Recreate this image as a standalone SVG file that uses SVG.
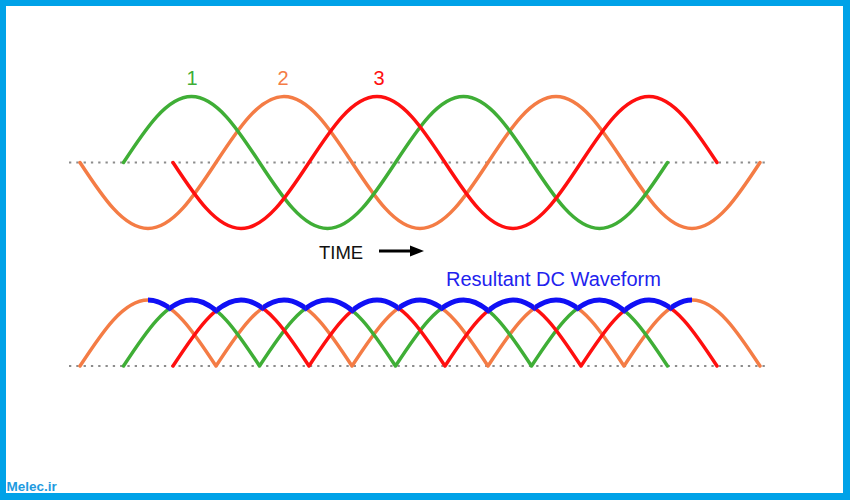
<svg xmlns="http://www.w3.org/2000/svg" xmlns:xlink="http://www.w3.org/1999/xlink" width="850" height="500" viewBox="0 0 850 500">
<style>
.wave{fill:none;stroke-width:3.5;stroke-linecap:round;stroke-linejoin:round}
.g{stroke:#3fae36}
.o{stroke:#f47c45}
.r{stroke:#ff0f0f}
.b{fill:none;stroke:#1010f5;stroke-width:5;stroke-linejoin:round}
.base{stroke:#8c8c8c;stroke-width:2;stroke-dasharray:2.3 5}
.lbl{font-family:"Liberation Sans",Arial,sans-serif;font-size:20px;text-anchor:middle}
</style>
<defs>
<path id="rg" d="M123.5,366 C145.67,332.19 166.89,300 191.5,300 C216.11,300 237.33,332.19 259.5,366 C281.67,332.19 302.89,300 327.5,300 C352.11,300 373.33,332.19 395.5,366 C417.67,332.19 438.89,300 463.5,300 C488.11,300 509.33,332.19 531.5,366 C553.67,332.19 574.89,300 599.5,300 C624.11,300 645.33,332.19 667.5,366"/>
<path id="ro" d="M80,366 C102.17,332.19 123.39,300 148,300 C172.61,300 193.83,332.19 216,366 C238.17,332.19 259.39,300 284,300 C308.61,300 329.83,332.19 352,366 C374.17,332.19 395.39,300 420,300 C444.61,300 465.83,332.19 488,366 C510.17,332.19 531.39,300 556,300 C580.61,300 601.83,332.19 624,366 C646.17,332.19 667.39,300 692,300 C716.61,300 737.83,332.19 760,366"/>
<path id="rr" d="M173,366 C195.17,332.19 216.39,300 241,300 C265.61,300 286.83,332.19 309,366 C331.17,332.19 352.39,300 377,300 C401.61,300 422.83,332.19 445,366 C467.17,332.19 488.39,300 513,300 C537.61,300 558.83,332.19 581,366 C603.17,332.19 624.39,300 649,300 C673.61,300 694.83,332.19 717,366"/>
<clipPath id="co"><rect x="148" y="280" width="21.75" height="40"/><rect x="262.5" y="280" width="43.25" height="40"/><rect x="398.5" y="280" width="43.25" height="40"/><rect x="534.5" y="280" width="43.25" height="40"/><rect x="670.5" y="280" width="21.5" height="40"/></clipPath>
<clipPath id="cg"><rect x="169.75" y="280" width="46.5" height="40"/><rect x="305.75" y="280" width="46.5" height="40"/><rect x="441.75" y="280" width="46.5" height="40"/><rect x="577.75" y="280" width="46.5" height="40"/></clipPath>
<clipPath id="cr"><rect x="216.25" y="280" width="46.25" height="40"/><rect x="352.25" y="280" width="46.25" height="40"/><rect x="488.25" y="280" width="46.25" height="40"/><rect x="624.25" y="280" width="46.25" height="40"/></clipPath>
</defs>
<g id="frame">
<rect x="0" y="0" width="850" height="500" fill="#00a2e8"/>
<rect x="6" y="6" width="837" height="487" fill="#ffffff"/>
</g>
<g id="baselines">
<line class="base" x1="69" y1="162.5" x2="767" y2="162.5"/>
<line class="base" x1="69" y1="366" x2="767" y2="366"/>
</g>
<g id="ac-waves">
<path id="wave-2" class="wave o" d="M80,162.5 C102.17,196.31 123.39,228.5 148,228.5 C172.61,228.5 193.83,196.31 216,162.5 C238.17,128.69 259.39,96.5 284,96.5 C308.61,96.5 329.83,128.69 352,162.5 C374.17,196.31 395.39,228.5 420,228.5 C444.61,228.5 465.83,196.31 488,162.5 C510.17,128.69 531.39,96.5 556,96.5 C580.61,96.5 601.83,128.69 624,162.5 C646.17,196.31 667.39,228.5 692,228.5 C716.61,228.5 737.83,196.31 760,162.5"/>
<path id="wave-1" class="wave g" d="M123.5,162.5 C145.67,128.69 166.89,96.5 191.5,96.5 C216.11,96.5 237.33,128.69 259.5,162.5 C281.67,196.31 302.89,228.5 327.5,228.5 C352.11,228.5 373.33,196.31 395.5,162.5 C417.67,128.69 438.89,96.5 463.5,96.5 C488.11,96.5 509.33,128.69 531.5,162.5 C553.67,196.31 574.89,228.5 599.5,228.5 C624.11,228.5 645.33,196.31 667.5,162.5"/>
<path id="wave-3" class="wave r" d="M173,162.5 C195.17,196.31 216.39,228.5 241,228.5 C265.61,228.5 286.83,196.31 309,162.5 C331.17,128.69 352.39,96.5 377,96.5 C401.61,96.5 422.83,128.69 445,162.5 C467.17,196.31 488.39,228.5 513,228.5 C537.61,228.5 558.83,196.31 581,162.5 C603.17,128.69 624.39,96.5 649,96.5 C673.61,96.5 694.83,128.69 717,162.5"/>
</g>
<g id="phase-labels" class="lbl">
<text x="192" y="85" fill="#3fae36">1</text>
<text x="283" y="85" fill="#f47c45">2</text>
<text x="379" y="85" fill="#ff0f0f">3</text>
</g>
<g id="time-axis">
<text x="319" y="259" font-family="Liberation Sans, Arial, sans-serif" font-size="18.5" fill="#111">TIME</text>
<line x1="379" y1="251" x2="413" y2="251" stroke="#000" stroke-width="3"/>
<polygon points="410,245.5 424,251 410,256.5" fill="#000"/>
</g>
<g id="rectified-waves">
<use xlink:href="#ro" class="wave o"/>
<use xlink:href="#rg" class="wave g"/>
<use xlink:href="#rr" class="wave r"/>
</g>
<g id="dc-envelope">
<use xlink:href="#ro" class="b" clip-path="url(#co)"/>
<use xlink:href="#rg" class="b" clip-path="url(#cg)"/>
<use xlink:href="#rr" class="b" clip-path="url(#cr)"/>
</g>
<g id="dc-label">
<text x="446" y="286" font-family="Liberation Sans, Arial, sans-serif" font-size="20" fill="#2222ee">Resultant DC Waveform</text>
</g>
<g id="watermark">
<text x="6.5" y="491" font-family="Liberation Sans, Arial, sans-serif" font-size="13.5" font-weight="bold" fill="#1e9be0">Melec.ir</text>
</g>
</svg>
